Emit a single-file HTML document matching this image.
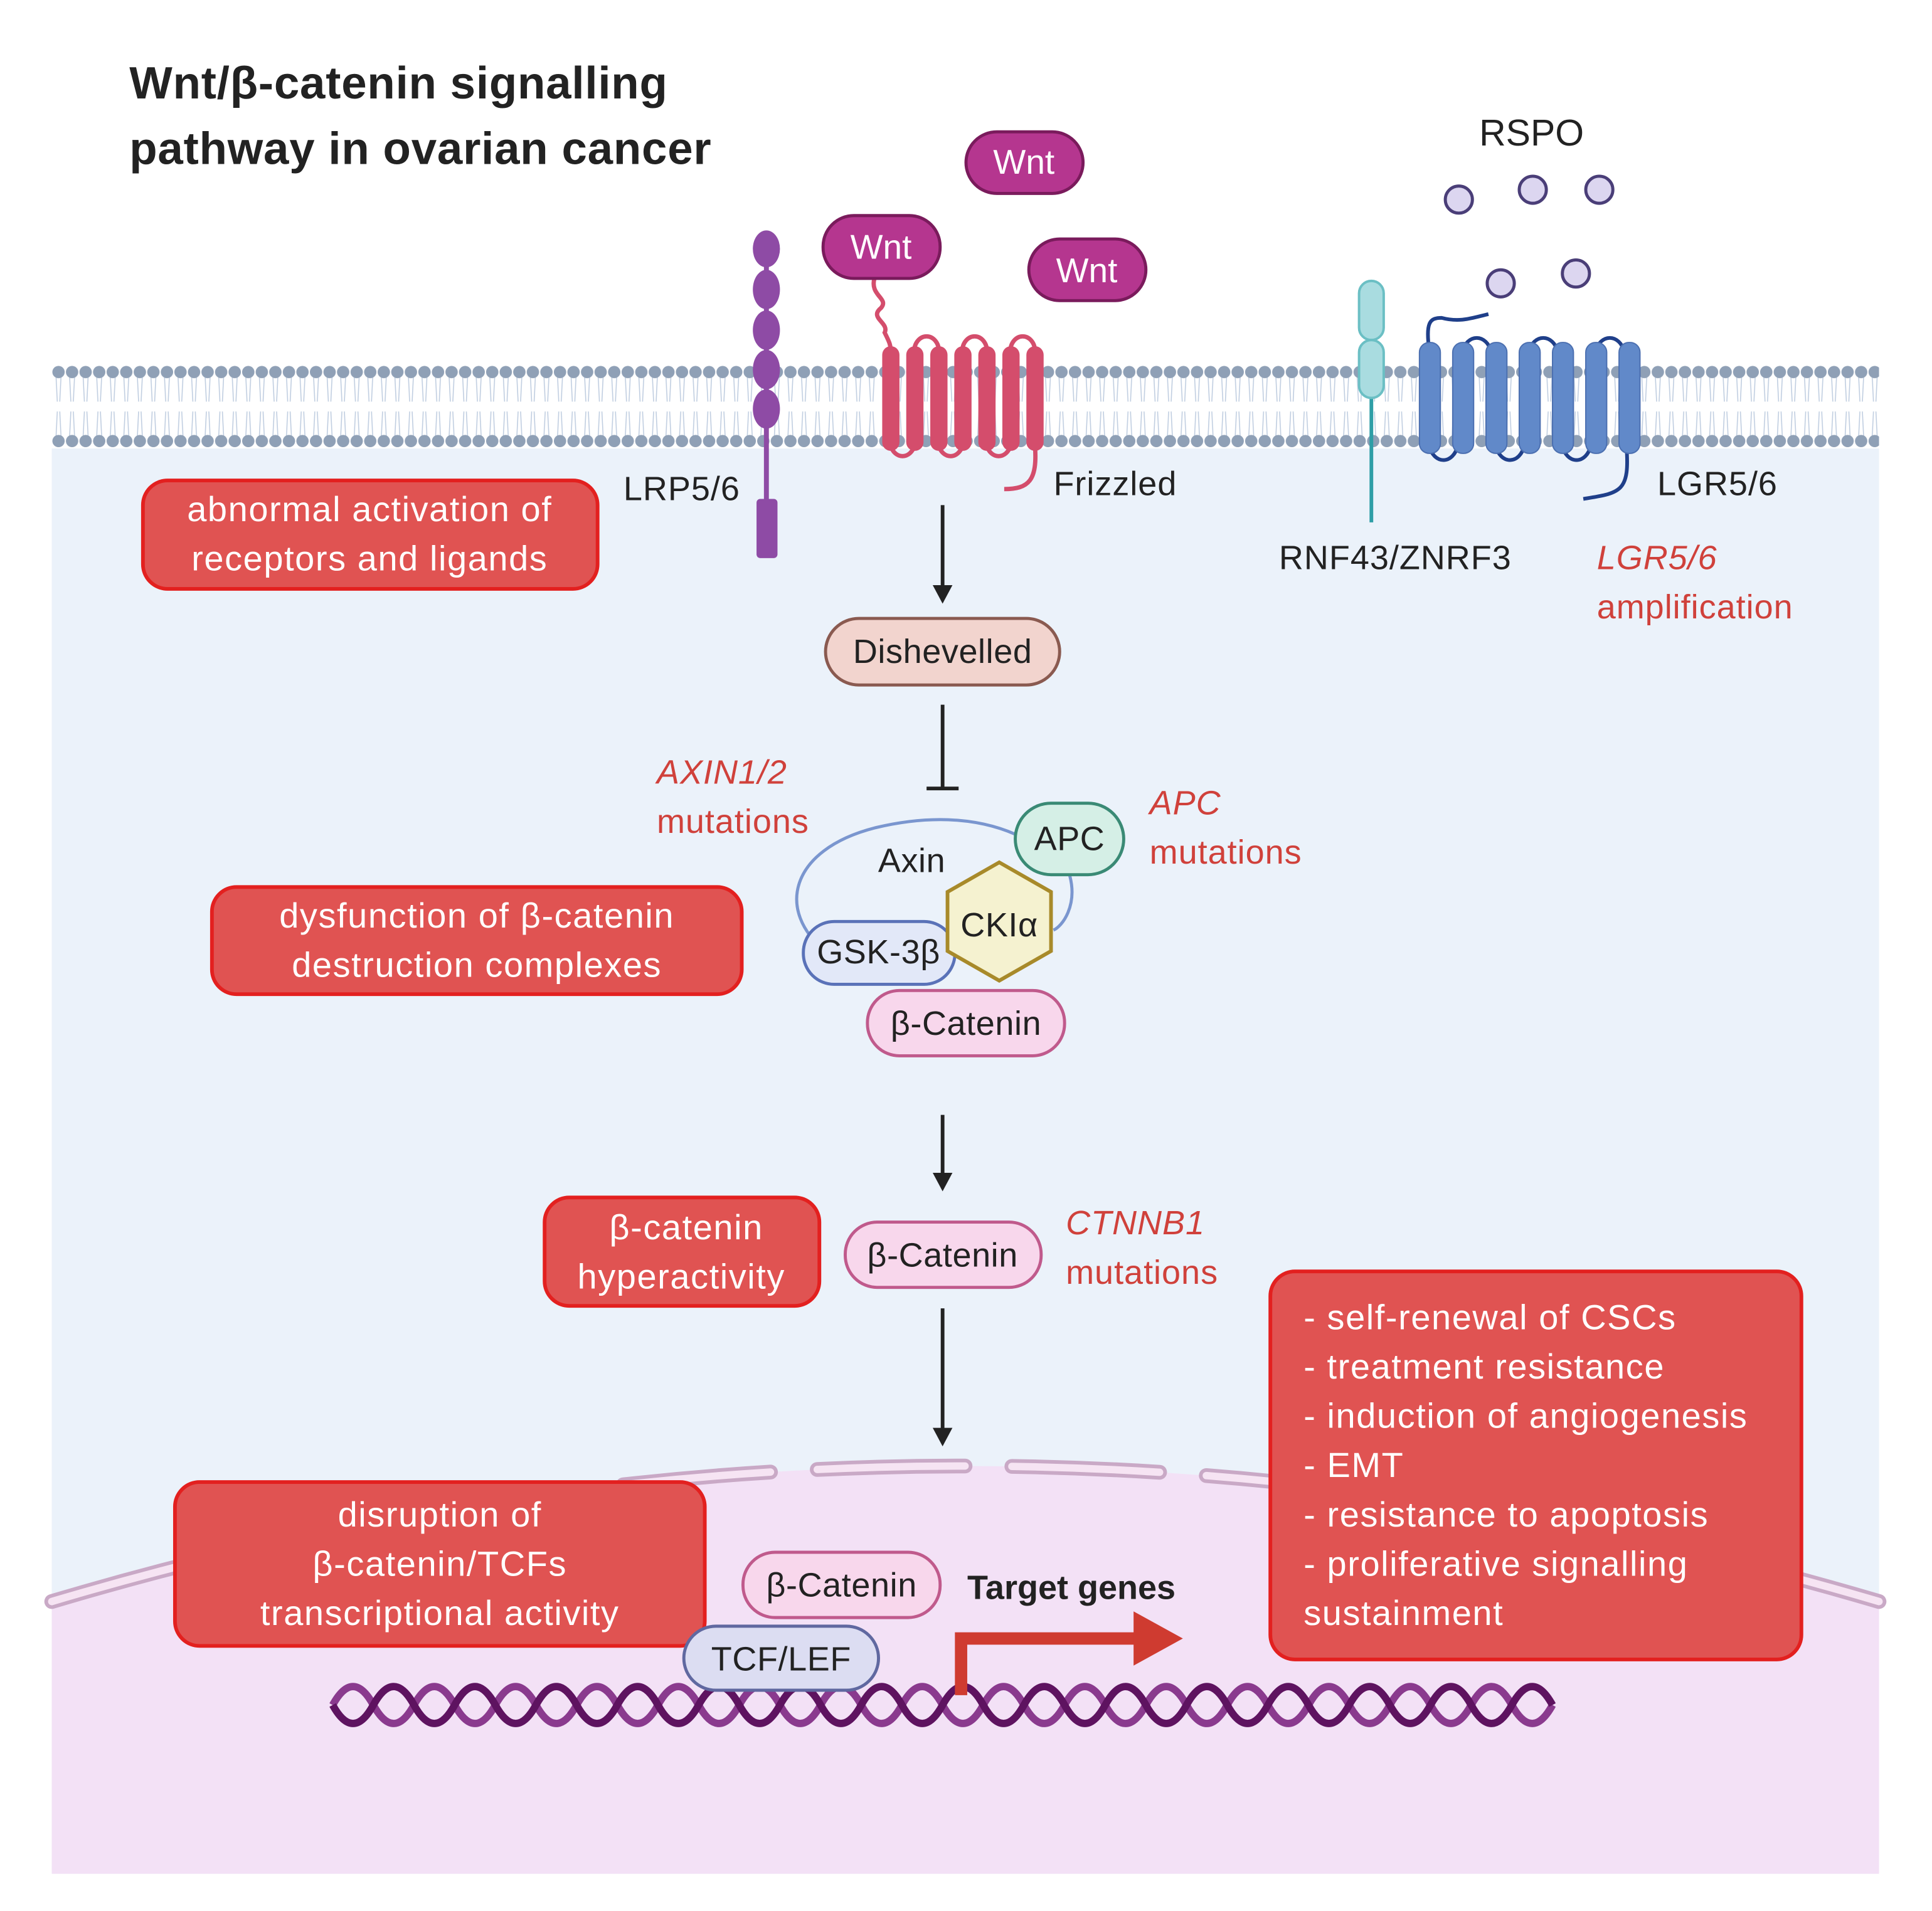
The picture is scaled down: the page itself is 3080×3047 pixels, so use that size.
<!DOCTYPE html>
<html><head><meta charset="utf-8"><style>
html,body{margin:0;padding:0;background:#fff;}
svg{display:block;}
text{font-family:"Liberation Sans",sans-serif;}
.l{font-size:27.5px;letter-spacing:0.5px;}
.b{font-size:28.5px;letter-spacing:0.8px;}
.n{font-size:27.5px;letter-spacing:0.3px;}
</style></head><body>
<svg width="3080" height="3047" viewBox="0 0 1568 1551.2" xmlns="http://www.w3.org/2000/svg">
<defs>
<pattern id="mem" patternUnits="userSpaceOnUse" x="42" y="296" width="11" height="68">
<g stroke="#BFCDE0" stroke-width="0.8" fill="none">
<path d="M3.5,10 L4.5,30 M7.5,10 L6.5,30 M3.5,58 L4.5,38 M7.5,58 L6.5,38"/>
</g>
<circle cx="5.5" cy="6" r="5" fill="#8FA0B6"/>
<circle cx="5.5" cy="62" r="5" fill="#8FA0B6"/>
</pattern>
</defs>
<rect width="1568" height="1552" fill="#fff"/>
<rect x="42" y="300" width="1483" height="1221" fill="#EBF2FA"/>
<path d="M42,1300 Q780,1080 1525,1300 L1525,1521 L42,1521 Z" fill="#F3E1F6"/>
<path d="M42,1300 Q780,1080 1525,1300" fill="none" stroke="#C9A9C6" stroke-width="12" stroke-dasharray="120,38" stroke-linecap="round"/>
<path d="M42,1300 Q780,1080 1525,1300" fill="none" stroke="#F6E4F3" stroke-width="6" stroke-dasharray="120,38" stroke-linecap="round"/>
<rect x="42" y="296" width="1483" height="68" fill="#fff"/>
<rect x="42" y="296" width="1483" height="68" fill="url(#mem)"/>

<text x="105" y="80" font-size="37" letter-spacing="0.4" font-weight="bold" fill="#222">Wnt/β-catenin signalling</text>
<text x="105" y="133" font-size="37" letter-spacing="0.4" font-weight="bold" fill="#222">pathway in ovarian cancer</text>

<line x1="622" y1="200" x2="622" y2="410" stroke="#8E4BA5" stroke-width="4"/>
<g fill="#8E4BA5">
<ellipse cx="622" cy="202" rx="11" ry="15"/><ellipse cx="622" cy="235" rx="11" ry="16"/><ellipse cx="622" cy="268" rx="11" ry="16"/><ellipse cx="622" cy="300" rx="11" ry="16"/><ellipse cx="622" cy="332" rx="11" ry="16"/>
<rect x="614" y="405" width="17" height="48" rx="3"/>
</g>
<text x="506" y="406" class="l" fill="#222">LRP5/6</text>

<g fill="none" stroke="#D44D6C" stroke-width="3.5">
<path d="M710,225 C705,240 722,242 715,250 C705,258 722,262 718,270 C722,278 723,280 723,287"/>
<path d="M742,285 A10,12 0 0 1 762,285 M781,285 A10,12 0 0 1 801,285 M820,285 A10,12 0 0 1 840,285"/>
<path d="M723,362 A10,12 0 0 0 742,362 M762,362 A10,12 0 0 0 781,362 M801,362 A10,12 0 0 0 820,362"/>
<path d="M840,362 C842,390 835,397 815,397"/>
</g>
<g fill="#D44D6C">
<rect x="716" y="281" width="14" height="85" rx="7"/><rect x="735.5" y="281" width="14" height="85" rx="7"/><rect x="755" y="281" width="14" height="85" rx="7"/><rect x="774.5" y="281" width="14" height="85" rx="7"/><rect x="794" y="281" width="14" height="85" rx="7"/><rect x="813.5" y="281" width="14" height="85" rx="7"/><rect x="833" y="281" width="14" height="85" rx="7"/>
</g>
<text x="855" y="402" class="l" fill="#222">Frizzled</text>

<g fill="#B5368F" stroke="#7A1B5C" stroke-width="2.5">
<rect x="784" y="107" width="95" height="50" rx="25"/>
<rect x="668" y="175" width="95" height="51" rx="25"/>
<rect x="835" y="194" width="95" height="50" rx="25"/>
</g>
<g fill="#fff" font-size="28" text-anchor="middle">
<text x="831" y="141">Wnt</text><text x="715" y="210">Wnt</text><text x="882" y="229">Wnt</text>
</g>

<text x="1243" y="118" font-size="30" fill="#222" text-anchor="middle">RSPO</text>
<g fill="#DCD6F0" stroke="#4A3E78" stroke-width="2.5">
<circle cx="1184" cy="162" r="11"/><circle cx="1244" cy="154" r="11"/><circle cx="1298" cy="154" r="11"/><circle cx="1218" cy="230" r="11"/><circle cx="1279" cy="222" r="11"/>
</g>

<line x1="1113" y1="300" x2="1113" y2="424" stroke="#2E9EA6" stroke-width="3"/>
<g fill="#A9DCE0" stroke="#6BBFC4" stroke-width="2">
<rect x="1103" y="228" width="20" height="48" rx="10"/><rect x="1103" y="276" width="20" height="47" rx="10"/>
</g>
<text x="1038" y="462" class="l" fill="#222">RNF43/ZNRF3</text>

<g fill="none" stroke="#1F3F8A" stroke-width="3">
<path d="M1160,285 C1157,262 1160,258 1170,258 C1185,262 1195,258 1208,255"/>
<path d="M1187,285 A12,15 0 0 1 1210,285 M1241,285 A12,15 0 0 1 1264,285 M1295,285 A12,15 0 0 1 1318,285"/>
<path d="M1160,362 A12,16 0 0 0 1183,362 M1214,362 A12,16 0 0 0 1237,362 M1268,362 A12,16 0 0 0 1291,362"/>
<path d="M1320,362 C1323,400 1315,400 1285,405"/>
</g>
<g fill="#6189C9" stroke="#4B6FB0" stroke-width="1">
<rect x="1152" y="278" width="17" height="90" rx="8"/><rect x="1179" y="278" width="17" height="90" rx="8"/><rect x="1206" y="278" width="17" height="90" rx="8"/><rect x="1233" y="278" width="17" height="90" rx="8"/><rect x="1260" y="278" width="17" height="90" rx="8"/><rect x="1287" y="278" width="17" height="90" rx="8"/><rect x="1314" y="278" width="17" height="90" rx="8"/>
</g>
<text x="1345" y="402" class="l" fill="#222">LGR5/6</text>
<text x="1296" y="462" class="l" fill="#D0413B" font-style="italic">LGR5/6</text>
<text x="1296" y="502" class="l" fill="#D0413B">amplification</text>

<g fill="#E05352" stroke="#E3201F" stroke-width="3">
<rect x="116" y="390" width="369" height="88" rx="20"/>
<rect x="172" y="720" width="430" height="87" rx="20"/>
<rect x="442" y="972" width="223" height="88" rx="20"/>
<rect x="142" y="1203" width="430" height="133" rx="20"/>
<rect x="1031" y="1032" width="431" height="315" rx="20"/>
</g>
<g fill="#fff" class="b" text-anchor="middle">
<text x="300" y="423">abnormal activation of</text><text x="300" y="463">receptors and ligands</text>
<text x="387" y="753">dysfunction of β-catenin</text><text x="387" y="793">destruction complexes</text>
<text x="557" y="1006">β-catenin</text><text x="553" y="1046">hyperactivity</text>
<text x="357" y="1239">disruption of</text><text x="357" y="1279">β-catenin/TCFs</text><text x="357" y="1319">transcriptional activity</text>
</g>
<g fill="#fff" class="b">
<text x="1058" y="1079">- self-renewal of CSCs</text>
<text x="1058" y="1119">- treatment resistance</text>
<text x="1058" y="1159">- induction of angiogenesis</text>
<text x="1058" y="1199">- EMT</text>
<text x="1058" y="1239">- resistance to apoptosis</text>
<text x="1058" y="1279">- proliferative signalling</text>
<text x="1058" y="1319">sustainment</text>
</g>

<g stroke="#222" stroke-width="3" fill="#222">
<line x1="765" y1="410" x2="765" y2="478"/>
<path d="M757,475 L773,475 L765,490 Z" stroke="none"/>
<line x1="765" y1="572" x2="765" y2="640"/>
<line x1="752" y1="640" x2="778" y2="640"/>
<line x1="765" y1="905" x2="765" y2="955"/>
<path d="M757,952 L773,952 L765,967 Z" stroke="none"/>
<line x1="765" y1="1062" x2="765" y2="1162"/>
<path d="M757,1159 L773,1159 L765,1174 Z" stroke="none"/>
</g>

<rect x="670" y="502" width="190" height="54" rx="27" fill="#F2D4CE" stroke="#8A5A50" stroke-width="2.5"/>
<text x="765" y="538" class="n" fill="#222" text-anchor="middle">Dishevelled</text>

<text x="533" y="636" class="l" fill="#D0413B" font-style="italic">AXIN1/2</text>
<text x="533" y="676" class="l" fill="#D0413B">mutations</text>
<text x="933" y="661" class="l" fill="#D0413B" font-style="italic">APC</text>
<text x="933" y="701" class="l" fill="#D0413B">mutations</text>

<path d="M670,772 C630,740 640,690 710,672 C760,660 800,665 830,680 M868,710 C875,735 862,752 855,755 M780,765 C760,763 740,765 730,768" fill="none" stroke="#7A96CF" stroke-width="2.5"/>
<text x="740" y="708" class="n" fill="#222" text-anchor="middle">Axin</text>
<rect x="824" y="652" width="88" height="58" rx="29" fill="#D5EFE6" stroke="#3A8A75" stroke-width="2.5"/>
<text x="868" y="690" class="n" fill="#222" text-anchor="middle">APC</text>
<rect x="652" y="748" width="123" height="51" rx="25" fill="#E2E8F8" stroke="#5A72B8" stroke-width="2.5"/>
<text x="713" y="782" class="n" fill="#222" text-anchor="middle">GSK-3β</text>
<polygon points="811,700 853,724 853,772 811,796 769,772 769,724" fill="#F5F2D0" stroke="#A88A2A" stroke-width="3"/>
<text x="811" y="760" class="n" fill="#222" text-anchor="middle">CKIα</text>
<rect x="704" y="804" width="160" height="53" rx="26" fill="#F8D7EC" stroke="#C05A8C" stroke-width="2.5"/>
<text x="784" y="840" class="n" fill="#222" text-anchor="middle">β-Catenin</text>

<rect x="686" y="992" width="159" height="53" rx="26" fill="#F8D7EC" stroke="#C05A8C" stroke-width="2.5"/>
<text x="765" y="1028" class="n" fill="#222" text-anchor="middle">β-Catenin</text>
<text x="865" y="1002" class="l" fill="#D0413B" font-style="italic">CTNNB1</text>
<text x="865" y="1042" class="l" fill="#D0413B">mutations</text>

<g fill="none" stroke-width="6">
<path stroke="#8A3A8E" d="M270,1384 q16.5,-30 33,0 t33,0 t33,0 t33,0 t33,0 t33,0 t33,0 t33,0 t33,0 t33,0 t33,0 t33,0 t33,0 t33,0 t33,0 t33,0 t33,0 t33,0 t33,0 t33,0 t33,0 t33,0 t33,0 t33,0 t33,0 t33,0 t33,0 t33,0 t33,0 t33,0"/>
<path stroke="#5E1360" d="M270,1384 q16.5,30 33,0 t33,0 t33,0 t33,0 t33,0 t33,0 t33,0 t33,0 t33,0 t33,0 t33,0 t33,0 t33,0 t33,0 t33,0 t33,0 t33,0 t33,0 t33,0 t33,0 t33,0 t33,0 t33,0 t33,0 t33,0 t33,0 t33,0 t33,0 t33,0 t33,0"/>
</g>

<path d="M780,1376 L780,1330 L925,1330" fill="none" stroke="#CF3B30" stroke-width="10"/>
<polygon points="920,1308 960,1330 920,1352" fill="#CF3B30"/>
<text x="785" y="1298" font-size="27.5" font-weight="bold" fill="#222">Target genes</text>

<rect x="603" y="1260" width="160" height="53" rx="26" fill="#F8D7EC" stroke="#C05A8C" stroke-width="2.5"/>
<text x="683" y="1296" class="n" fill="#222" text-anchor="middle">β-Catenin</text>
<rect x="555" y="1320" width="158" height="52" rx="26" fill="#DCDDF2" stroke="#6068A0" stroke-width="2.5"/>
<text x="634" y="1356" class="n" fill="#222" text-anchor="middle">TCF/LEF</text>
</svg>
</body></html>
